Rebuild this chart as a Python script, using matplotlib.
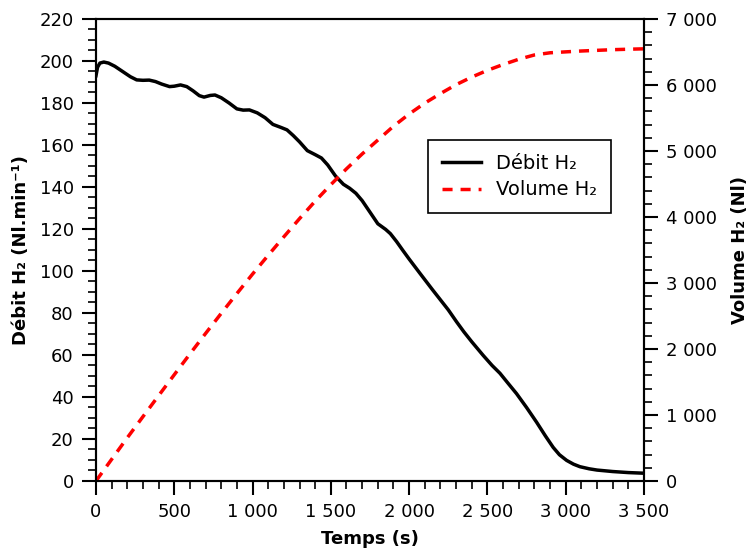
import matplotlib
matplotlib.use('Agg')
import matplotlib.pyplot as plt
from matplotlib.ticker import MultipleLocator, FuncFormatter

# Debit H2 (Nl/min)
t_debit = [0, 10, 25, 50, 80, 120, 170, 220, 260, 300, 340, 380, 420, 470, 500,
           540, 580, 620, 660, 690, 730, 760, 800, 850, 900, 940, 980, 1030, 1080,
           1130, 1180, 1220, 1260, 1300, 1350, 1400, 1440, 1480, 1530, 1580, 1620,
           1660, 1700, 1750, 1800, 1850, 1880, 1920, 1960, 2000, 2069, 2150, 2250,
           2303, 2350, 2400, 2473, 2530, 2580, 2630, 2686, 2750, 2814, 2870, 2920,
           2960, 3006, 3050, 3091, 3150, 3200, 3300, 3400, 3500]
debit = [193, 197, 199, 199.5, 199, 197.5, 195, 192.5, 191, 190.8, 190.9, 190.2,
         189, 187.8, 188, 188.6, 187.8, 185.8, 183.5, 182.8, 183.6, 183.8, 182.5,
         180, 177.2, 176.6, 176.7, 175.3, 173, 169.8, 168.4, 167.2, 164.5, 161.5,
         157.3, 155.4, 153.8, 150.5, 145.2, 141.3, 139.4, 137, 133.5, 128, 122.5,
         119.8, 117.8, 114, 109.8, 105.7, 98.9, 91, 81.5, 75.8, 71, 66.3, 59.8, 55,
         51.3, 46.7, 41.6, 35, 28, 21.5, 16, 12.5, 9.8, 8, 6.8, 5.8, 5.2, 4.5, 4.0, 3.7]

# Volume H2 (Nl)
t_vol = [0, 100, 200, 300, 400, 500, 600, 700, 800, 900, 1000, 1100, 1200, 1300,
         1400, 1500, 1600, 1700, 1800, 1900, 2000, 2100, 2200, 2300, 2400, 2500,
         2600, 2700, 2800, 2900, 3000, 3100, 3200, 3300, 3400, 3500]
volume = [0, 328, 655, 975, 1293, 1610, 1925, 2235, 2540, 2840, 3135, 3420, 3700,
          3975, 4240, 4490, 4730, 4955, 5165, 5375, 5560, 5725, 5870, 6005, 6120,
          6222, 6310, 6390, 6455, 6488, 6502, 6515, 6525, 6535, 6542, 6548]


def espace(v, pos):
    return f'{int(round(v)):,}'.replace(',', ' ')


plt.rcParams['font.family'] = 'DejaVu Sans'
plt.rcParams['font.size'] = 13

fig = plt.figure(figsize=(7.51, 5.49), dpi=100)
ax = fig.add_axes([0.1278, 0.1239, 0.7297, 0.8415])
ax2 = ax.twinx()

l1, = ax.plot(t_debit, debit, color='black', lw=2.5, label='Débit H₂')
l2, = ax2.plot(t_vol, volume, color='red', lw=2.5, ls=(0, (2.9, 2.3)), label='Volume H₂')

ax.set_xlim(0, 3500)
ax.set_ylim(0, 220)
ax2.set_ylim(0, 7000)

ax.xaxis.set_major_locator(MultipleLocator(500))
ax.xaxis.set_minor_locator(MultipleLocator(100))
ax.yaxis.set_major_locator(MultipleLocator(20))
ax.yaxis.set_minor_locator(MultipleLocator(5))
ax2.yaxis.set_major_locator(MultipleLocator(1000))
ax2.yaxis.set_minor_locator(MultipleLocator(200))
ax.xaxis.set_major_formatter(FuncFormatter(espace))
ax2.yaxis.set_major_formatter(FuncFormatter(espace))

for a in (ax, ax2):
    a.tick_params(which='major', length=10, width=1.5, direction='out',
                  labelsize=13, pad=6)
    a.tick_params(which='minor', length=6, width=1.2, direction='out')
    for s in a.spines.values():
        s.set_linewidth(1.5)

ax.set_xlabel('Temps (s)', fontweight='bold', fontsize=13, labelpad=6)
ax.set_ylabel('Débit H₂ (Nl.min⁻¹)', fontweight='bold', fontsize=13, labelpad=7)
ax2.set_ylabel('Volume H₂ (Nl)', fontweight='bold', fontsize=13, labelpad=10)

leg = ax2.legend(handles=[l1, l2], loc='upper left', bbox_to_anchor=(0.606, 0.738),
                 borderaxespad=0, fancybox=False, edgecolor='black', framealpha=1,
                 fontsize=14, handlelength=2.0, borderpad=0.7, labelspacing=0.4)
leg.get_frame().set_linewidth(1.2)

fig.savefig('out.png', dpi=100)
